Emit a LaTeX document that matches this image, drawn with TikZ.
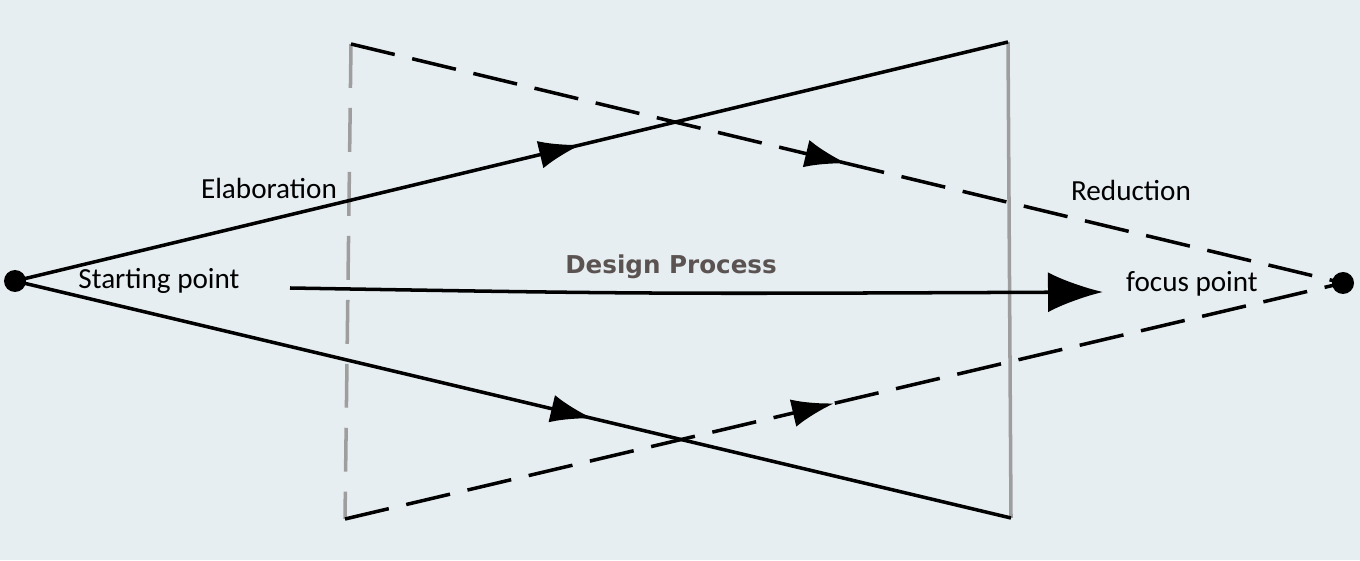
\documentclass[tikz,border=0pt]{standalone}
\usepackage{fontspec}
\setmainfont{Carlito}
\newfontfamily\dpfont{DejaVu Sans}
\usetikzlibrary{arrows.meta,decorations.markings}
\definecolor{bgblue}{HTML}{E7EEF2}
\definecolor{frameGrey}{HTML}{9E9E9E}
\definecolor{dpBrown}{HTML}{5B5352}
\tikzset{
  midarrow/.style={postaction={decorate},decoration={markings,
      mark=at position #1 with {\arrow{Latex[length=4.2mm,width=2.8mm]}}}},
  path/.style={line width=1pt},
  dashpath/.style={line width=1pt, dash pattern=on 12.8pt off 5.1pt},
  lbl/.style={font=\fontsize{8.3}{10}\selectfont, inner sep=0pt}
}
\begin{document}
\begin{tikzpicture} % diverge and converge
        \fill[bgblue] (0,0) rectangle (13.6,5.6);
        \useasboundingbox (0,0) rectangle (13.6,5.6);
        \coordinate (start) at (0.15, 2.79);
        \coordinate (focus) at (13.43, 2.77);
        \coordinate (tl) at (3.51, 5.16);
        \coordinate (bl) at (3.45, 0.41);
        \coordinate (tr) at (10.08, 5.18);
        \coordinate (br) at (10.11, 0.42);
        \coordinate (dpstart) at (2.90, 2.72);
        \coordinate (dpend) at (11.03, 2.68);
        \draw[frameGrey, line width=1pt, dash pattern=on 12.5pt off 5.7pt] (tl) -- (bl);
        \draw[frameGrey, line width=1pt] (tr) -- (br);
        \draw[path, midarrow=0.57] (start) -- (tr);
        \draw[path, midarrow=0.58] (start) -- (br);
        \draw[dashpath, midarrow=0.5] (tl) -- (focus);
        \draw[dashpath, midarrow=0.49] (bl) -- (focus);
        \draw[path, -{Latex[length=5.5mm,width=4mm]}] (dpstart) .. controls (6.5, 2.66) .. (dpend);
        \fill (start) circle (0.11);
        \fill (focus) circle (0.11);
        \node[lbl] (elab) at (2.69, 3.72) {Elaboration};
        \node[lbl] (startlbl) at (1.59, 2.79) {Starting point};
        \node[lbl] (red) at (11.31, 3.70) {Reduction};
        \node[lbl] (focuslbl) at (11.92, 2.76) {focus point};
        \node[inner sep=0pt, text=dpBrown, font=\dpfont\bfseries\fontsize{7}{9}\selectfont] (dp) at (6.71, 2.93) {Design Process};
      \end{tikzpicture}
\end{document}
